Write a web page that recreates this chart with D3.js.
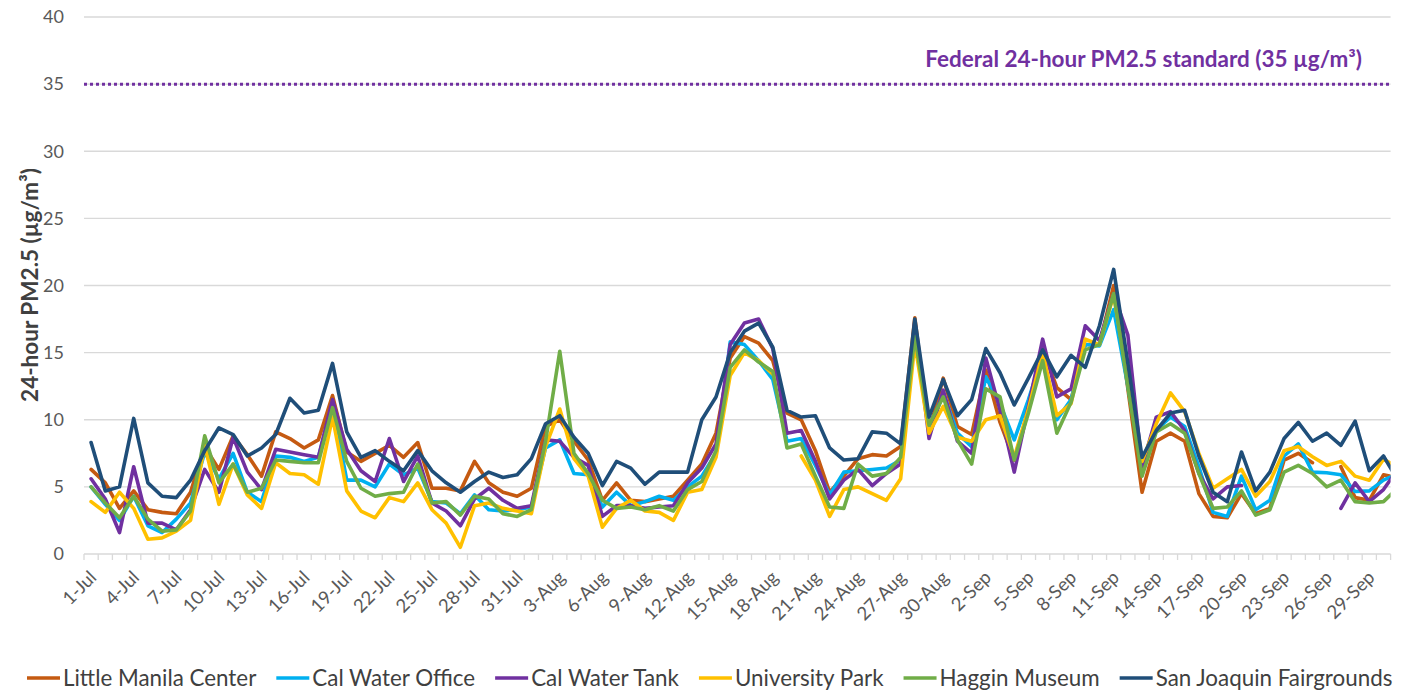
<!DOCTYPE html>
<html><head><meta charset="utf-8">
<script src="https://cdn.jsdelivr.net/npm/d3@7"></script>
<style>body{margin:0;background:#fff}svg{display:block}</style>
</head><body>
<svg id="chart" width="1409" height="692"></svg>
<script>
// Categories: daily, 1-Jul .. 1-Oct (1-Oct only as the clipped continuation at the right edge)
const categories = d3.timeDay.range(new Date(2023, 6, 1), new Date(2023, 9, 2)).map(d3.timeFormat("%-d-%b"));
const visibleDays = 92;

const seriesNames = ["Little Manila Center", "Cal Water Office", "Cal Water Tank", "University Park", "Haggin Museum", "San Joaquin Fairgrounds"];
const seriesColors = ["#c55a11", "#00b0f0", "#7030a0", "#ffc000", "#70ad47", "#1f4e79"];

const littleManila = [6.3,5.3,3.4,4.7,3.3,3.1,3.0,4.6,8.0,6.3,
8.8,7.4,5.8,9.1,8.6,7.9,8.5,11.8,7.6,6.9,
7.5,8.1,7.2,8.3,4.9,4.9,4.7,6.9,5.3,4.6,
4.3,4.9,9.5,10.0,8.4,7.0,4.0,5.3,4.0,3.9,
4.1,4.3,5.5,6.7,9.0,14.6,16.2,15.7,14.4,10.5,
10.0,7.7,4.6,5.8,7.1,7.4,7.3,8.0,17.6,9.1,
13.1,9.5,8.9,13.7,9.8,7.0,10.8,15.3,12.4,11.5,
15.6,15.6,20.0,12.3,4.6,8.4,9.0,8.4,4.5,2.8,
2.7,4.5,3.0,3.4,7.0,7.5,6.8,null,6.5,4.2,
4.0,5.9,5.7];

const calWaterOffice = [5.0,3.7,2.5,4.3,2.1,1.6,2.6,3.8,7.6,5.6,
7.5,4.6,3.9,7.3,7.2,6.9,7.2,11.1,5.5,5.5,
5.0,6.7,5.9,6.4,3.9,3.8,3.0,4.4,3.3,3.2,
3.3,3.5,7.9,8.5,6.0,5.9,3.5,4.6,3.6,3.9,
4.3,4.0,5.0,5.8,7.5,15.8,15.6,14.4,13.0,8.4,
8.6,6.6,4.4,6.1,6.2,6.3,6.4,7.0,16.9,9.2,
12.0,9.0,8.0,13.2,11.2,8.5,11.5,14.8,10.0,11.5,
15.6,15.5,18.2,12.5,6.5,9.2,10.2,9.5,6.5,3.1,
2.8,5.8,3.3,4.0,7.3,8.2,6.1,6.05,5.9,4.65,
4.7,5.5,6.0];

const calWaterTank = [5.6,4.1,1.6,6.5,2.3,2.3,1.8,3.3,6.3,4.6,
8.7,6.1,4.8,7.8,7.6,7.4,7.2,11.5,7.8,6.2,
5.4,8.6,5.4,7.3,3.8,3.2,2.1,4.1,4.9,4.0,
3.4,3.6,8.5,8.4,7.2,6.6,2.8,3.6,3.6,3.4,
3.5,3.6,5.3,6.4,8.2,15.6,17.2,17.5,15.3,9.0,
9.2,6.9,4.1,5.5,6.3,5.1,6.0,6.7,17.3,8.6,
12.2,8.4,7.5,14.6,10.7,6.1,11.0,16.0,11.7,12.3,
17.0,15.9,19.4,16.3,6.5,10.2,10.6,9.2,6.0,4.1,
5.0,5.1,null,null,null,null,null,null,3.4,5.3,
3.9,4.8,6.3];

const universityPark = [3.9,3.1,4.6,3.4,1.1,1.2,1.7,2.5,8.1,3.7,
6.7,4.4,3.4,6.8,6.0,5.9,5.2,10.2,4.7,3.2,
2.7,4.2,3.9,5.3,3.3,2.3,0.5,3.6,3.8,3.4,
3.2,3.0,8.0,10.8,7.1,5.8,2.0,3.4,4.0,3.2,
3.1,2.5,4.6,4.8,7.2,13.3,15.0,14.4,13.4,null,
7.3,5.5,2.8,4.8,5.0,4.5,4.0,5.6,15.7,9.0,
11.0,8.7,8.4,10.0,10.3,7.2,10.8,15.0,10.3,11.2,
16.0,15.6,19.3,13.0,6.9,9.7,12.0,10.6,7.5,4.9,
5.6,6.3,4.3,5.4,7.7,8.0,7.25,6.6,6.9,5.8,
5.5,7.05,6.5];

const hagginMuseum = [5.0,3.8,2.7,4.3,2.6,1.7,1.8,3.2,8.8,5.3,
6.7,4.6,4.9,7.0,6.9,6.8,6.8,10.9,6.9,4.9,
4.3,4.5,4.6,6.7,3.8,3.9,2.9,4.3,4.1,3.0,
2.8,3.3,8.4,15.1,7.5,6.0,4.0,3.4,3.5,3.3,
3.6,3.2,4.8,5.4,7.7,13.9,15.2,14.3,13.6,7.9,
8.2,5.8,3.5,3.4,6.7,5.8,6.0,7.2,16.2,9.6,
11.7,8.5,6.7,12.3,11.7,7.0,10.5,14.4,9.0,11.3,
15.2,15.6,19.4,12.5,5.8,9.1,9.7,9.0,6.0,3.4,
3.5,4.7,2.9,3.3,6.1,6.6,6.0,5.0,5.5,3.9,
3.8,3.9,4.9];

const sanJoaquin = [8.3,4.7,5.0,10.1,5.3,4.3,4.2,5.5,7.7,9.4,
8.9,7.3,7.9,8.9,11.6,10.5,10.7,14.2,9.1,7.2,
7.7,6.9,6.2,7.7,6.2,5.3,4.6,5.4,6.1,5.7,
5.9,7.1,9.7,10.3,8.7,7.5,5.1,6.9,6.4,5.2,
6.1,6.1,6.1,10.0,11.7,15.0,16.6,17.2,15.4,10.7,
10.2,10.3,7.9,7.0,7.1,9.1,9.0,8.2,17.5,10.2,
13.0,10.3,11.5,15.3,13.5,11.1,13.1,15.2,13.2,14.8,
13.9,17.0,21.2,14.2,7.2,9.2,10.5,10.7,7.3,4.6,
3.9,7.6,4.7,6.1,8.6,9.8,8.4,9.0,8.1,9.9,
6.2,7.3,5.5];

const seriesValues = [littleManila, calWaterOffice, calWaterTank, universityPark, hagginMuseum, sanJoaquin];
const yTicks = [0, 5, 10, 15, 20, 25, 30, 35, 40];
const xLabelEvery = 3;
const standardValue = 35;
const standardLabel = "Federal 24-hour PM2.5 standard (35 µg/m³)";
const yTitle = "24-hour PM2.5 (µg/m³)";

const svg = d3.select("#chart");
const plot = {left: 84, right: 1390.6, top: 17, bottom: 554};
const x = d3.scaleLinear().domain([-0.5, visibleDays - 0.5]).range([plot.left, plot.right]);
const y = d3.scaleLinear().domain([0, 40]).range([plot.bottom, plot.top]);
const FONT = "Lato, 'Open Sans', sans-serif";

// gridlines
svg.append("g").selectAll("line").data(yTicks).join("line")
  .attr("x1", plot.left).attr("x2", plot.right)
  .attr("y1", d => y(d)).attr("y2", d => y(d))
  .attr("stroke", "#d9d9d9").attr("stroke-width", 1.3);

// y tick labels
svg.append("g").selectAll("text").data(yTicks).join("text")
  .attr("x", 64).attr("y", d => y(d)).attr("dy", "0.35em")
  .attr("text-anchor", "end").attr("font-family", FONT).attr("font-size", 18)
  .attr("fill", "#595959").text(d => d);

// x tick marks
svg.append("g").selectAll("line").data(d3.range(visibleDays + 1)).join("line")
  .attr("x1", k => x(k - 0.5)).attr("x2", k => x(k - 0.5))
  .attr("y1", plot.bottom).attr("y2", plot.bottom + 6)
  .attr("stroke", "#d9d9d9").attr("stroke-width", 1.3);

// x labels
const labelIdx = d3.range(0, visibleDays, xLabelEvery);
svg.append("g").selectAll("text").data(labelIdx).join("text")
  .attr("transform", i => `translate(${x(i) + 2},${plot.bottom + 20}) rotate(-45)`)
  .attr("text-anchor", "end").attr("dy", "0.35em")
  .attr("font-family", FONT).attr("font-size", 18.5).attr("fill", "#595959")
  .text(i => categories[i]);

// y title
const yt = svg.append("text")
  .attr("transform", "translate(30,285) rotate(-90)")
  .attr("text-anchor", "middle").attr("dy", "0.35em")
  .attr("font-family", FONT).attr("font-weight", "bold").attr("font-size", 20)
  .attr("fill", "#404040").text(yTitle);
{ const w = yt.node().getComputedTextLength(); yt.attr("font-size", 20 * 234 / w); }

// standard line
svg.append("line")
  .attr("x1", plot.left).attr("x2", plot.right)
  .attr("y1", y(standardValue)).attr("y2", y(standardValue))
  .attr("stroke", "#7030a0").attr("stroke-width", 3).attr("stroke-dasharray", "3 3");

const st = svg.append("text")
  .attr("x", 1362).attr("y", y(standardValue) - 17)
  .attr("text-anchor", "end").attr("font-family", FONT).attr("font-weight", "bold")
  .attr("font-size", 18).attr("fill", "#7030a0").text(standardLabel);
{ const w = st.node().getComputedTextLength(); st.attr("font-size", 18 * 437 / w); }

// lines
svg.append("defs").append("clipPath").attr("id", "clip").append("rect")
  .attr("x", plot.left).attr("y", 0).attr("width", plot.right - plot.left).attr("height", plot.bottom + 5);

const line = d3.line().defined(v => v != null).x((v, i) => x(i)).y(v => y(v));
svg.append("g").attr("clip-path", "url(#clip)").selectAll("path").data(seriesValues).join("path")
  .attr("d", line).attr("fill", "none")
  .attr("stroke", (d, i) => seriesColors[i]).attr("stroke-width", 3.6)
  .attr("stroke-linejoin", "round").attr("stroke-linecap", "round");

// legend
const lg = svg.append("g");
const legStart = 27, legEnd = 1393, markW = 33, markGap = 3, itemGap = 20, legY = 678;
const items = lg.selectAll("g").data(seriesNames).join("g");
items.append("line").attr("stroke", (d, i) => seriesColors[i]).attr("stroke-width", 3.6);
const lt = items.append("text").attr("font-family", FONT).attr("font-size", 20)
  .attr("fill", "#404040").attr("dy", "0.35em").text(d => d);
let totalText = 0; lt.each(function(){ totalText += this.getComputedTextLength(); });
const avail = (legEnd - legStart) - seriesNames.length * (markW + markGap) - (seriesNames.length - 1) * itemGap;
const fs = 20 * avail / totalText;
lt.attr("font-size", fs);
let cx = legStart;
items.each(function(d, i){
  const g = d3.select(this);
  g.select("line").attr("x1", cx).attr("x2", cx + markW).attr("y1", legY).attr("y2", legY);
  const t = g.select("text").attr("x", cx + markW + markGap).attr("y", legY);
  cx += markW + markGap + t.node().getComputedTextLength() + itemGap;
});
</script>
</body></html>
